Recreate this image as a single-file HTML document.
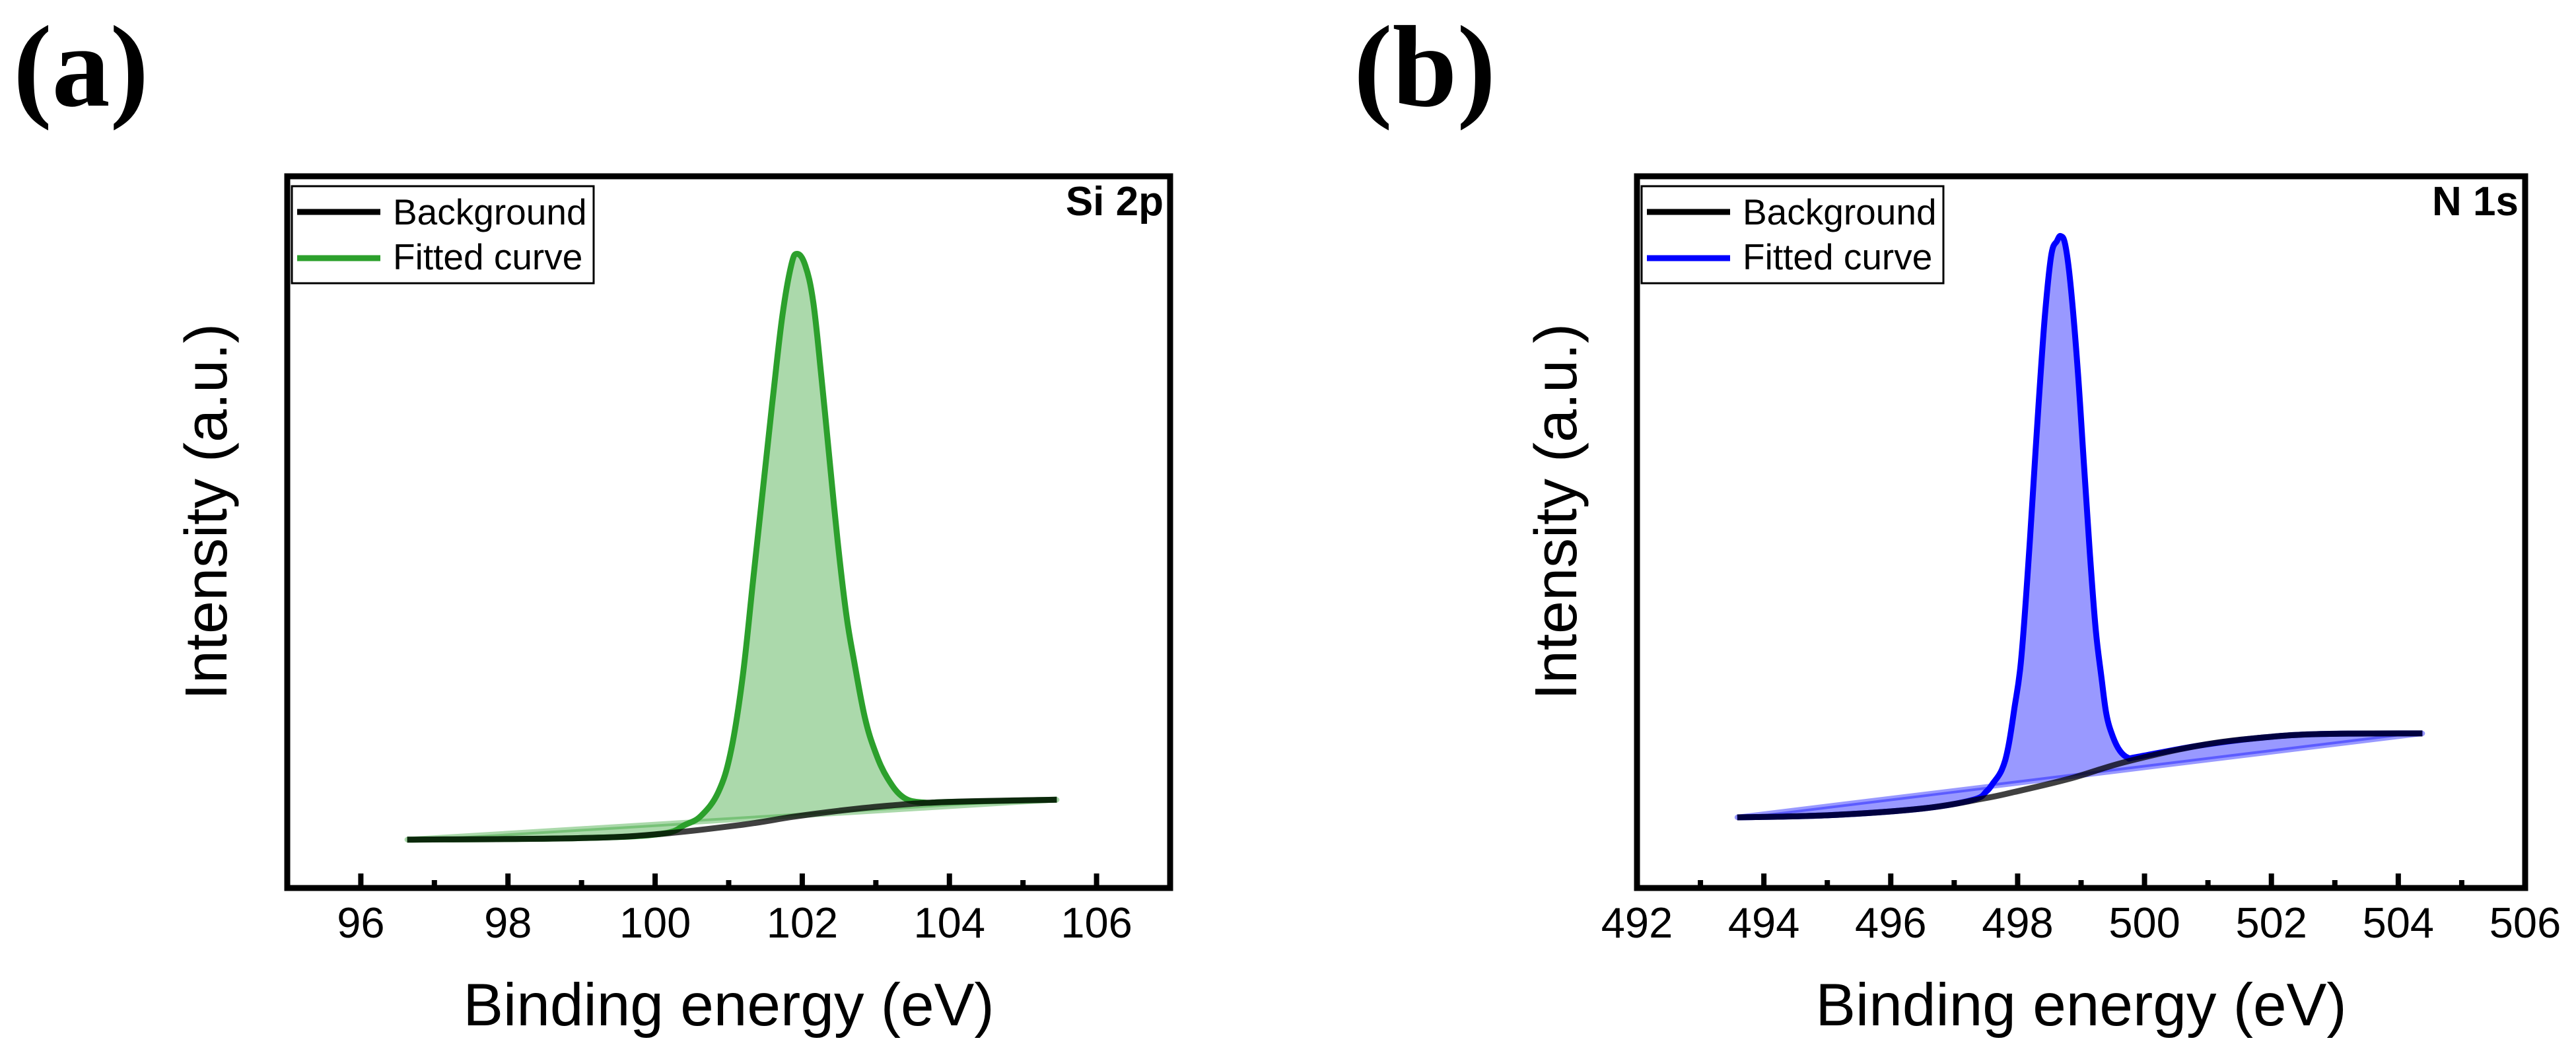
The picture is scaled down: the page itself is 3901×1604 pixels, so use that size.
<!DOCTYPE html>
<html><head><meta charset="utf-8"><style>
html,body{margin:0;padding:0;background:#fff;}
svg{display:block;}
text{font-family:"Liberation Sans",Arial,sans-serif;}
</style></head><body>
<svg id="fig" width="3901" height="1604" viewBox="0 0 3901 1604" xmlns="http://www.w3.org/2000/svg">
<rect x="0" y="0" width="3901" height="1604" fill="#fff"/>
<text x="20" y="160" font-weight="bold" font-size="176" style="font-family:'Liberation Serif',serif">(a)</text>
<text x="2050" y="160" font-weight="bold" font-size="176" style="font-family:'Liberation Serif',serif">(b)</text>
<g id="pa"></g>
<g id="pb"></g>
</svg>
<script>
// Panel (a) Si 2p data
const aBgX = [96.63, 98.95, 100.07, 101.19, 101.87, 102.54, 103.21, 104.0, 105.46];
const aBgY = [6.8, 7.0, 7.6, 8.9, 10.0, 10.9, 11.6, 12.1, 12.4];
const aFitX = [96.63, 98.95, 100.07, 100.41, 100.63, 100.86, 101.03, 101.19, 101.33, 101.47, 101.61, 101.73, 101.85, 101.93, 102.04, 102.15, 102.26, 102.37, 102.48, 102.60, 102.71, 102.85, 102.99, 103.16, 103.38, 103.66, 104.0, 105.46];
const aFitY = [6.8, 7.0, 7.6, 8.9, 10.2, 13.5, 19.2, 29.7, 43.1, 56.5, 69.8, 80.4, 87.5, 89.1, 87.5, 82.3, 71.8, 60.3, 48.8, 38.3, 31.6, 24.0, 19.2, 15.4, 12.7, 12.0, 12.1, 12.4];
const aTicks = [96, 98, 100, 102, 104, 106];
const aMinor = [97, 99, 101, 103, 105];
// Panel (b) N 1s data
const bBgX = [493.58, 495.05, 496.50, 497.46, 497.95, 498.82, 499.69, 500.85, 501.82, 502.78, 504.38];
const bBgY = [9.93, 10.24, 11.17, 12.57, 13.5, 15.36, 17.69, 20.0, 21.1, 21.63, 21.72];
const bFitX = [493.58, 495.05, 496.5, 497.3, 497.51, 497.61, 497.75, 497.85, 497.95, 498.05, 498.15, 498.24, 498.33, 498.43, 498.53, 498.62, 498.68, 498.75, 498.83, 498.94, 499.04, 499.14, 499.23, 499.32, 499.40, 499.50, 499.61, 499.74, 499.88, 500.85, 501.82, 502.78, 504.38];
const bFitY = [9.93, 10.24, 11.17, 12.4, 13.6, 14.7, 16.6, 19.7, 25.3, 31.6, 43.1, 55.4, 67.9, 80.4, 88.9, 90.9, 91.6, 90.4, 85.1, 73.7, 60.3, 46.9, 36.4, 29.7, 24.4, 21.3, 19.3, 18.3, 18.4, 20.0, 21.1, 21.63, 21.72];
const bTicks = [492, 494, 496, 498, 500, 502, 504, 506];
const bMinor = [493, 495, 497, 499, 501, 503, 505];

const NS = "http://www.w3.org/2000/svg";
function mk(parent, tag, attrs, txt) {
  const e = document.createElementNS(NS, tag);
  for (const k in attrs) e.setAttribute(k, attrs[k]);
  if (txt !== undefined) e.textContent = txt;
  parent.appendChild(e);
  return e;
}
function smoothPath(P) {
  let d = "M" + P[0][0].toFixed(1) + "," + P[0][1].toFixed(1);
  for (let i = 0; i < P.length - 1; i++) {
    const p0 = P[Math.max(i - 1, 0)], p1 = P[i], p2 = P[i + 1], p3 = P[Math.min(i + 2, P.length - 1)];
    const t = 0.18;
    const c1 = [p1[0] + (p2[0] - p0[0]) * t, p1[1] + (p2[1] - p0[1]) * t];
    const c2 = [p2[0] - (p3[0] - p1[0]) * t, p2[1] - (p3[1] - p1[1]) * t];
    d += " C" + c1[0].toFixed(1) + "," + c1[1].toFixed(1) + " " + c2[0].toFixed(1) + "," + c2[1].toFixed(1) + " " + p2[0].toFixed(1) + "," + p2[1].toFixed(1);
  }
  return d;
}
function drawPanel(g, o) {
  const L = o.left, R = o.right, T = 267, B = 1345;
  const sx = v => L + (v - o.xmin) / (o.xmax - o.xmin) * (R - L);
  const sy = v => B - v / 100 * (B - T);
  const P = (xs, ys) => xs.map((x, i) => [sx(x), sy(ys[i])]);
  const fitP = P(o.fitX, o.fitY), bgP = P(o.bgX, o.bgY);
  const fill = mk(g, "path", {d: smoothPath(fitP) + " Z", fill: o.color, "fill-opacity": "0.4", stroke: "none"});
  
  
  const n = fitP.length - 1;
  const base = mk(g, "line", {x1: fitP[0][0], y1: fitP[0][1], x2: fitP[n][0], y2: fitP[n][1], stroke: o.color, "stroke-opacity": "0.4", "stroke-width": "8", "stroke-linecap": "round"});
  
  
  const fit = mk(g, "path", {d: smoothPath(fitP), fill: "none", stroke: o.color, "stroke-width": "9", "stroke-linejoin": "round"});
  
  
  const bg = mk(g, "path", {d: smoothPath(bgP), fill: "none", stroke: "#000", "stroke-opacity": "0.75", "stroke-width": "9", "stroke-linejoin": "round"});
  
  
  const fr = mk(g, "rect", {x: L, y: T, width: R - L, height: B - T, fill: "none", stroke: "#000", "stroke-width": "9"});
  
  
  o.ticks.forEach(t => {
    const x = sx(t);
    if (x > L + 5 && x < R - 5) {
      const tk = mk(g, "line", {x1: x, y1: B, x2: x, y2: B - 22, stroke: "#000", "stroke-width": "8"});
      
      
    }
    const lb = mk(g, "text", {x: x, y: 1420, "font-size": "65", "text-anchor": "middle"}, String(t));
    
    
  });
  o.minor.forEach(t => {
    const x = sx(t);
    const tk = mk(g, "line", {x1: x, y1: B, x2: x, y2: B - 12, stroke: "#000", "stroke-width": "8"});
    
    
  });
  const xt = mk(g, "text", {x: (L + R) / 2, y: 1553, "font-size": "91", "text-anchor": "middle"}, "Binding energy (eV)");
  
  
  const yx = L - 92;
  const yt = mk(g, "text", {x: yx, y: 775, "font-size": "90", "text-anchor": "middle", transform: "rotate(-90 " + yx + " 775)"}, "Intensity (a.u.)");
  
  
  const st = mk(g, "text", {x: R - 10, y: 326, "font-size": "62", "font-weight": "bold", "text-anchor": "end"}, o.title);
  
  
  const lg = mk(g, "g", {});
  
  
  const lx = L + 7;
  mk(lg, "rect", {x: lx, y: 282, width: 457, height: 147, fill: "#fff", stroke: "#000", "stroke-width": "3"});
  const e1 = mk(lg, "line", {x1: lx + 8, y1: 321, x2: lx + 134, y2: 321, stroke: "#000", "stroke-width": "9"});
  
  
  const t1 = mk(lg, "text", {x: lx + 153, y: 340, "font-size": "55"}, "Background");
  
  
  const e2 = mk(lg, "line", {x1: lx + 8, y1: 391, x2: lx + 134, y2: 391, stroke: o.color, "stroke-width": "9"});
  
  
  const t2 = mk(lg, "text", {x: lx + 153, y: 408, "font-size": "55"}, "Fitted curve");
  
  
}
drawPanel(document.getElementById("pa"), {left: 435, right: 1772, xmin: 95, xmax: 107, color: "#2ca02c", title: "Si 2p",
  bgX: aBgX, bgY: aBgY, fitX: aFitX, fitY: aFitY, ticks: aTicks, minor: aMinor});
drawPanel(document.getElementById("pb"), {left: 2479, right: 3824, xmin: 492, xmax: 506, color: "#0000ff", title: "N 1s",
  bgX: bBgX, bgY: bBgY, fitX: bFitX, fitY: bFitY, ticks: bTicks, minor: bMinor});
</script>
</body></html>
